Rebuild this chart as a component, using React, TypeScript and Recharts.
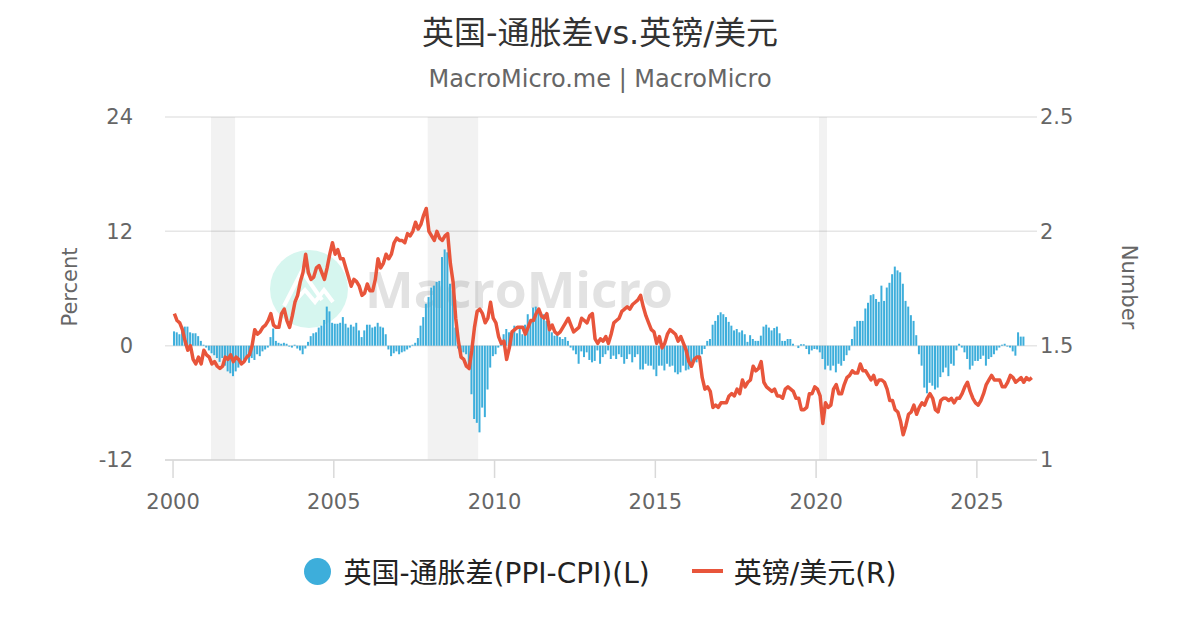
import React from 'react';
import { ComposedChart, Bar, Line, XAxis, YAxis, CartesianGrid, ReferenceArea } from 'recharts';

const START_YEAR = 2000;

// UK PPI - CPI spread (%), monthly from Jan 2000
const spreadMonthly: number[] = [
  1.5, 1.4, 1.2, 1.5, 2.0, 2.0, 1.4, 1.3, 1.3, 1.0, 0.5, 0.1,
  -0.2, -0.5, -0.8, -1.0, -1.3, -1.7, -1.3, -2.1, -2.7, -2.9, -3.2, -2.7,
  -2.3, -2.0, -1.5, -1.1, -1.8, -1.3, -1.5, -0.9, -1.1, -0.6, -0.4, -0.2,
  0.9, 1.8, 0.5, 0.3, 0.2, 0.3, 0.2, -0.1, -0.2, 0.1, -0.3, -0.5,
  -0.9, -0.3, 0.4, 1.0, 1.3, 1.4, 1.9, 2.1, 2.7, 4.1, 3.6, 2.4,
  2.3, 2.3, 2.4, 3.0, 2.3, 1.9, 2.2, 2.0, 2.4, 1.6, 0.9, 1.6,
  2.2, 2.2, 1.9, 2.0, 2.4, 2.0, 1.9, 1.2, -0.4, -1.1, -0.8, -0.6,
  -0.9, -0.7, -0.6, -0.4, -0.2, 0.1, 0.3, 0.8, 2.1, 3.0, 4.4, 5.1,
  6.1, 6.3, 6.7, 6.8, 9.3, 10.1, 9.8, 6.5, 5.8, 1.9, -0.3, -0.7,
  -0.7, -0.9, -2.3, -5.1, -7.7, -8.1, -9.1, -6.5, -7.5, -4.6, -2.3, -1.1,
  -0.9, -0.2, 0.5, 1.2, 1.75, 1.4, 1.05, 2.1, 1.3, 2.0, 1.2, 2.2,
  3.3, 2.6, 4.0, 4.1, 3.7, 3.3, 3.3, 2.6, 2.6, 1.4, 1.05, 1.2,
  0.9, 0.7, 0.9, 0.5, -0.2, -0.5, -0.9, -1.9, -0.6, -1.2, -0.7, -1.5,
  -1.75, -1.6, -0.5, -1.9, -1.2, -0.9, -0.5, -1.4, -1.05, -1.4, -0.9, -1.2,
  -1.9, -1.4, -0.9, -1.75, -1.2, -0.9, -2.5, -2.5, -1.9, -2.1, -2.1, -2.5,
  -3.2, -2.1, -2.1, -2.6, -1.9, -2.2, -2.1, -2.8, -3.0, -2.8, -2.1, -2.6,
  -2.5, -2.3, -1.6, -1.75, -1.2, -0.9, -0.35, 0.5, 0.7, 2.2, 2.6, 3.2,
  3.5, 3.3, 3.0, 2.5, 2.1, 1.6, 1.75, 1.4, 1.6, 1.2, 0.4, 1.1,
  0.7, 0.5, 0.5, 1.05, 2.0, 2.2, 1.9, 1.6, 1.85, 2.0, 1.3, 0.5,
  0.5, 0.7, 0.7, 0.2, 0.0, -0.25, 0.15, 0.15, -0.35, -0.9, -0.5, -0.35,
  -0.4, -0.7, -1.4, -2.5, -2.1, -2.6, -2.1, -2.8, -1.9, -2.1, -1.6, -1.0,
  -0.5, 0.7, 2.0, 2.6, 2.6, 2.6, 3.9, 4.5, 5.3, 5.4, 4.9, 4.6,
  6.3, 4.7, 6.1, 6.6, 7.5, 8.3, 7.9, 7.7, 6.5, 4.7, 4.1, 3.2,
  2.6, 1.1, -0.9, -2.1, -4.4, -5.0, -3.9, -4.2, -4.6, -4.4, -3.3, -2.8,
  -2.3, -3.2, -1.9, -2.1, -0.5, 0.2, -0.2, -0.7, -1.4, -2.5, -2.1, -1.6,
  -1.6, -1.4, -1.05, -2.1, -1.4, -1.2, -0.9, -0.5, -0.2, 0.1, 0.2, -0.1,
  -0.2, -0.6, -1.05, 1.4, 0.95, 0.95,
];

// GBP/USD, monthly from Jan 2000
const gbpusdMonthly: number[] = [
  1.64, 1.61, 1.60, 1.57, 1.52, 1.48, 1.50, 1.44, 1.42, 1.45, 1.42, 1.48,
  1.46, 1.45, 1.42, 1.43, 1.41, 1.40, 1.41, 1.45, 1.44, 1.46, 1.43, 1.45,
  1.44, 1.42, 1.43, 1.45, 1.46, 1.50, 1.57, 1.55, 1.56, 1.58, 1.59, 1.61,
  1.64, 1.59, 1.58, 1.58, 1.64, 1.66, 1.61, 1.58, 1.63, 1.69, 1.72, 1.78,
  1.82, 1.90, 1.82, 1.79, 1.80, 1.84, 1.85, 1.82, 1.79, 1.84, 1.90, 1.95,
  1.90, 1.92, 1.88, 1.88, 1.84, 1.80, 1.76, 1.79, 1.78, 1.76, 1.72, 1.73,
  1.77, 1.74, 1.74, 1.79, 1.88, 1.84, 1.86, 1.90, 1.88, 1.90, 1.95, 1.97,
  1.96, 1.96, 1.95, 1.99, 1.98, 2.00, 2.04, 2.01, 2.03, 2.07, 2.10, 2.00,
  1.98, 1.96, 2.00, 1.97, 1.96, 1.98, 1.99, 1.86, 1.78, 1.62, 1.52, 1.45,
  1.44, 1.41, 1.40, 1.48, 1.58, 1.65, 1.66, 1.64, 1.60, 1.62, 1.69, 1.62,
  1.60, 1.54, 1.51, 1.52, 1.44, 1.49, 1.56, 1.57, 1.58, 1.58, 1.58, 1.55,
  1.58, 1.61, 1.61, 1.64, 1.66, 1.63, 1.62, 1.64, 1.57, 1.59, 1.56, 1.55,
  1.56, 1.58, 1.60, 1.62, 1.59, 1.56, 1.57, 1.58, 1.62, 1.61, 1.60, 1.63,
  1.64, 1.53, 1.51, 1.53, 1.52, 1.54, 1.51, 1.55, 1.60, 1.61, 1.62, 1.65,
  1.66, 1.67, 1.66, 1.68, 1.69, 1.70, 1.72, 1.67, 1.63, 1.60, 1.57, 1.56,
  1.51, 1.54, 1.49, 1.51, 1.55, 1.57, 1.56, 1.55, 1.52, 1.54, 1.51, 1.48,
  1.43, 1.41, 1.44, 1.45, 1.45, 1.36, 1.31, 1.32, 1.30, 1.23, 1.24, 1.23,
  1.25, 1.25, 1.25, 1.28, 1.29, 1.28, 1.31, 1.29, 1.35, 1.32, 1.34, 1.35,
  1.41, 1.39, 1.40, 1.43, 1.34, 1.32, 1.31, 1.30, 1.31, 1.28, 1.28, 1.27,
  1.31, 1.32, 1.31, 1.30, 1.27, 1.27, 1.22, 1.22, 1.23, 1.29, 1.29, 1.32,
  1.31, 1.28, 1.16, 1.25, 1.23, 1.24, 1.31, 1.33, 1.29, 1.29, 1.33, 1.36,
  1.37, 1.39, 1.38, 1.38, 1.42, 1.39, 1.39, 1.37, 1.35, 1.37, 1.33, 1.35,
  1.35, 1.34, 1.31, 1.26, 1.26, 1.22, 1.21, 1.17, 1.11, 1.15, 1.20, 1.21,
  1.24, 1.20, 1.23, 1.25, 1.24, 1.27, 1.29, 1.27, 1.22, 1.21, 1.26, 1.27,
  1.27, 1.26, 1.27, 1.25, 1.27, 1.27, 1.29, 1.32, 1.34, 1.30, 1.27, 1.25,
  1.24, 1.26, 1.29, 1.33, 1.35, 1.37, 1.35, 1.35, 1.35, 1.32, 1.32, 1.34,
  1.37, 1.36, 1.34, 1.35, 1.36, 1.34, 1.36, 1.35, 1.36,
];

const xTicks = [2000, 2005, 2010, 2015, 2020, 2025];
const xDomain: [number, number] = [1999.75, 2026.87];
const leftTicks = [-12, 0, 12, 24];
const rightTicks = [1, 1.5, 2, 2.5];
const recessions: [number, number][] = [
  [2001.18, 2001.93],
  [2007.92, 2009.49],
  [2020.09, 2020.34],
];

const seriesNames = { spread: '英国-通胀差(PPI-CPI)(L)', gbp: '英镑/美元(R)' };
const titleText = '英国-通胀差vs.英镑/美元';
const subtitleText = 'MacroMicro.me | MacroMicro';

const n = Math.max(spreadMonthly.length, gbpusdMonthly.length);
const data = Array.from({ length: n }, (_, i) => ({
  t: START_YEAR + (i + 0.5) / 12,
  spread: i < spreadMonthly.length ? spreadMonthly[i] : null,
  gbp: i < gbpusdMonthly.length ? gbpusdMonthly[i] : null,
}));

const FONT = '"DejaVu Sans", "Noto Sans CJK SC", sans-serif';
const BAR_COLOR = '#3DAEDB';
const LINE_COLOR = '#E8553B';

function Watermark() {
  return (
    <svg width={1200} height={630} style={{ position: 'absolute', left: 0, top: 0, zIndex: 0 }}>
      <circle cx={309} cy={289} r={39} fill="#d6f6ef" />
      <polyline points="284,306 302,271 322,300" fill="none" stroke="#ffffff" strokeWidth={4} />
      <polyline points="296,300 305,290 315,302 324,290 333,302" fill="none" stroke="#ffffff" strokeWidth={4} />
      <text
        x={365}
        y={308}
        fontSize={51}
        fontWeight="bold"
        fill="#e2e2e2"
        fontFamily='"Open Sans", "DejaVu Sans", sans-serif'
        textLength={308}
        lengthAdjust="spacingAndGlyphs"
      >
        MacroMicro
      </text>
    </svg>
  );
}

export default function App() {
  return (
    <div
      style={{
        position: 'absolute',
        left: 0,
        top: 0,
        width: 1200,
        height: 630,
        background: '#ffffff',
        fontFamily: FONT,
        overflow: 'hidden',
      }}
    >
      <Watermark />
      <div
        style={{
          position: 'absolute',
          top: 12,
          left: 0,
          width: 1200,
          textAlign: 'center',
          fontSize: 32,
          lineHeight: '42px',
          color: '#333333',
          zIndex: 2,
        }}
      >
        {titleText}
      </div>
      <div
        style={{
          position: 'absolute',
          top: 64,
          left: 0,
          width: 1200,
          textAlign: 'center',
          fontSize: 24,
          lineHeight: '30px',
          color: '#666666',
          zIndex: 2,
        }}
      >
        {subtitleText}
      </div>
      <div
        style={{
          position: 'absolute',
          left: 70,
          top: 287,
          transform: 'translate(-50%, -50%) rotate(-90deg)',
          fontSize: 21,
          color: '#666666',
          whiteSpace: 'nowrap',
          zIndex: 2,
        }}
      >
        Percent
      </div>
      <div
        style={{
          position: 'absolute',
          left: 1129,
          top: 287,
          transform: 'translate(-50%, -50%) rotate(90deg)',
          fontSize: 21,
          color: '#666666',
          whiteSpace: 'nowrap',
          zIndex: 2,
        }}
      >
        Number
      </div>
      <div style={{ position: 'absolute', left: 0, top: 0, zIndex: 1 }}>
        <ComposedChart
          width={1200}
          height={630}
          data={data}
          margin={{ top: 117, right: 0, bottom: 110, left: 0 }}
        >
          <CartesianGrid yAxisId="left" horizontal vertical={false} stroke="#e6e6e6" strokeWidth={1.5} />
          {recessions.map(([a, b], i) => (
            <ReferenceArea
              key={i}
              x1={a}
              x2={b}
              yAxisId="left"
              fill="#000000"
              fillOpacity={0.05}
              stroke="none"
            />
          ))}
          <XAxis
            dataKey="t"
            type="number"
            domain={xDomain}
            ticks={xTicks}
            allowDataOverflow
            height={60}
            tick={{ fill: '#666666', fontSize: 21, fontFamily: FONT }}
            tickFormatter={(v: number) => String(v)}
            axisLine={{ stroke: '#d9d9d9', strokeWidth: 1.5 }}
            tickLine={{ stroke: '#d9d9d9', strokeWidth: 1.5 }}
            tickSize={18}
            tickMargin={16}
          />
          <YAxis
            yAxisId="left"
            orientation="left"
            width={165}
            domain={[-12, 24]}
            ticks={leftTicks}
            allowDataOverflow
            axisLine={false}
            tickLine={false}
            tickSize={0}
            tickMargin={32}
            tick={{ fill: '#666666', fontSize: 21, fontFamily: FONT }}
          />
          <YAxis
            yAxisId="right"
            orientation="right"
            width={163}
            domain={[1, 2.5]}
            ticks={rightTicks}
            allowDataOverflow
            axisLine={false}
            tickLine={false}
            tickSize={0}
            tickMargin={3}
            tick={{ fill: '#666666', fontSize: 21, fontFamily: FONT, textAnchor: 'start' }}
          />
          <Bar
            yAxisId="left"
            dataKey="spread"
            name={seriesNames.spread}
            fill={BAR_COLOR}
            barSize={2}
            isAnimationActive={false}
          />
          <Line
            yAxisId="right"
            dataKey="gbp"
            name={seriesNames.gbp}
            type="linear"
            stroke={LINE_COLOR}
            strokeWidth={3.5}
            strokeLinejoin="round"
            dot={false}
            activeDot={false}
            connectNulls
            isAnimationActive={false}
          />
        </ComposedChart>
      </div>
      <div
        style={{
          position: 'absolute',
          top: 551,
          left: 0,
          width: 1200,
          height: 40,
          display: 'flex',
          alignItems: 'center',
          justifyContent: 'center',
          fontSize: 28,
          color: '#222222',
          zIndex: 2,
        }}
      >
        <span
          style={{
            display: 'inline-block',
            width: 27,
            height: 27,
            borderRadius: '50%',
            background: BAR_COLOR,
            marginRight: 13,
          }}
        />
        <span>{seriesNames.spread}</span>
        <span
          style={{
            display: 'inline-block',
            width: 31,
            height: 4,
            background: LINE_COLOR,
            marginLeft: 42,
            marginRight: 11,
          }}
        />
        <span>{seriesNames.gbp}</span>
      </div>
    </div>
  );
}
